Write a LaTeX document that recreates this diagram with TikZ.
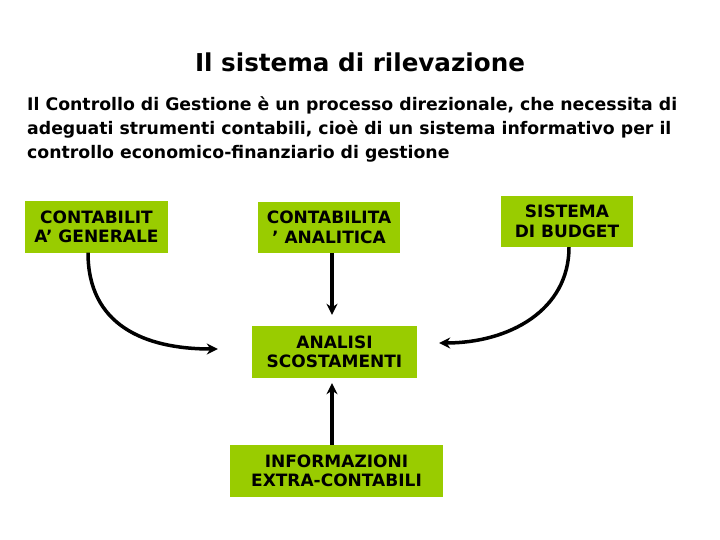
\documentclass[tikz,border=0pt]{standalone}
\usepackage{fontspec}
\setmainfont{DejaVu Sans}
\usetikzlibrary{arrows.meta}
\definecolor{boxgreen}{RGB}{153,204,0}
\tikzset{
  greenbox/.style={fill=boxgreen, draw=none, text=black, align=center, inner sep=0pt,
    font=\bfseries\fontsize{17}{19.5}\selectfont},
  flow/.style={line width=3.5pt, -{Stealth[length=11pt,width=11pt]}},
}
\begin{document}
\begin{tikzpicture}[x=1pt,y=-1pt]
\useasboundingbox[fill=white] (0,0) rectangle (720,540);
\node[font=\bfseries\fontsize{24.6}{30}\selectfont] (title) at (360,62) {Il sistema di rilevazione};
\node[anchor=north west, align=left, inner sep=0pt, font=\bfseries\fontsize{17.3}{24}\selectfont] (para) at (27,96.5)
  {Il Controllo di Gestione è un processo direzionale, che necessita di\\
   adeguati strumenti contabili, cioè di un sistema informativo per il\\
   controllo economico-finanziario di gestione};
\node[greenbox, minimum width=143pt, minimum height=51pt] (cg) at (96.5,227) {CONTABILIT\\A’ GENERALE};
\node[greenbox, minimum width=142pt, minimum height=51pt] (ca) at (329,227.5) {CONTABILITA\\’ ANALITICA};
\node[greenbox, minimum width=132pt, minimum height=51pt] (sb) at (567,221.5) {SISTEMA\\DI BUDGET};
\node[greenbox, minimum width=165pt, minimum height=52pt] (as) at (334.5,352) {ANALISI\\SCOSTAMENTI};
\node[greenbox, minimum width=213pt, minimum height=52pt] (ie) at (336.5,471) {INFORMAZIONI\\EXTRA-CONTABILI};
\coordinate (asl) at ([xshift=-34pt,yshift=3pt]as.west);
\coordinate (asr) at ([xshift=22pt,yshift=9pt]as.east);
\draw[flow] ([xshift=-8.5pt]cg.south) .. controls +(0,72) and +(-74,0) .. (asl);
\draw[flow] ([xshift=3pt]ca.south) -- ([xshift=-2.5pt,yshift=11pt]as.north);
\draw[flow] ([xshift=-4.5pt]ie.north) -- ([xshift=-2.5pt,yshift=-5pt]as.south);
\draw[flow] ([xshift=2pt]sb.south) .. controls +(0,63) and +(70,0) .. (asr);
\end{tikzpicture}
\end{document}
